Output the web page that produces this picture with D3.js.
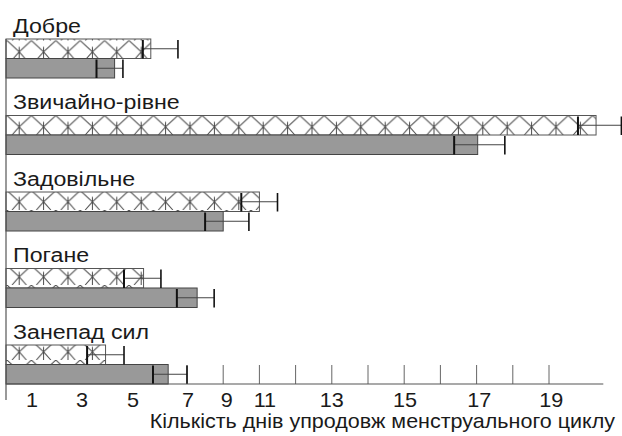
<!DOCTYPE html>
<html>
  <head>
    <meta charset="utf-8">
    <title>Кількість днів упродовж менструального циклу</title>
    <script src="https://cdn.jsdelivr.net/npm/d3@7"></script>
    <style>
      body { margin: 0; background: #fff; }
      svg text { font-family: "Liberation Sans", Arial, sans-serif; fill: #1a1a1a; }
    </style>
  </head>
  <body>
    <svg id="chart" width="622" height="436"></svg>
    <script>
      // values are in axis units: one unit per tick mark
      var categories = ["Добре", "Звичайно-рівне", "Задовільне", "Погане", "Занепад сил"];
      var hatchedMean = [4.0, 16.3, 7.0, 3.8, 2.75];
      var hatchedLow  = [3.78, 15.8, 6.5, 3.26, 2.24];
      var hatchedHigh = [4.75, 17.0, 7.5, 4.28, 3.26];
      var grayMean = [3.0, 13.03, 6.0, 5.28, 4.48];
      var grayLow  = [2.5, 12.38, 5.5, 4.72, 4.06];
      var grayHigh = [3.23, 13.78, 6.71, 5.75, 5.0];
      var tickValues = d3.range(1, 16);
      var tickLabels = ["1", "3", "5", "7", "9", "11", "13", "15", "17", "19"];
      var tickLabelAt = [0.72, 2.1, 3.51, 5.03, 6.1, 7.15, 9.0, 11.02, 13.07, 15.06];
      var axisTitle = "Кількість днів упродовж менструального циклу";

      var svg = d3.select("#chart");
      var x = d3.scaleLinear().domain([0, 16.5]).range([6, 603.3]);
      var y = d3.scaleBand().domain(categories).range([1.5, 384]);
      var step = y.step();
      var inner = d3.scaleBand().domain(["hatched", "gray"]).range([step - 39, step]);

      // the source text is a little wider than Arial
      function place(tx, ty, sx) {
        return "translate(" + tx + "," + ty + ") scale(" + sx + ",1)";
      }

      // tick marks, drawn upward from the axis, behind the bars
      svg.selectAll("line.tick")
        .data(tickValues)
        .enter()
        .append("line")
        .attr("class", "tick")
        .attr("x1", function(d) { return x(d); })
        .attr("x2", function(d) { return x(d); })
        .attr("y1", 384)
        .attr("y2", 365)
        .attr("stroke", "#666")
        .attr("stroke-width", 1);

      var rows = categories.map(function(c, i) {
        return { cat: c, hm: hatchedMean[i], hl: hatchedLow[i], hh: hatchedHigh[i],
                 gm: grayMean[i], gl: grayLow[i], gh: grayHigh[i], i: i };
      });

      // hatch pattern per row, anchored at the bar top
      var defs = svg.append("defs");
      rows.forEach(function(r) {
        var top = y(r.cat) + inner("hatched");
        var h = inner.bandwidth();
        var w = 24.4, c = w / 2, cy = h * 0.58;
        var p = defs.append("pattern")
          .attr("id", "hatch" + r.i)
          .attr("patternUnits", "userSpaceOnUse")
          .attr("x", x(0) + 1).attr("y", top)
          .attr("width", w).attr("height", h);
        p.append("rect").attr("width", w).attr("height", h).attr("fill", "#fff");
        p.append("path")
          .attr("d", "M0,0 L" + c + "," + cy + " L" + (w - 5) + "," + h +
                     " M" + w + ",0 L" + c + "," + cy + " L5," + h +
                     " M" + c + "," + (cy - 5) + " L" + c + "," + h)
          .attr("stroke", "#4a4a4a").attr("stroke-width", 1).attr("fill", "none");
      });

      var row = svg.selectAll("g.row")
        .data(rows)
        .enter()
        .append("g")
        .attr("class", "row")
        .attr("transform", function(d) { return "translate(0," + y(d.cat) + ")"; });

      row.append("text")
        .attr("transform", place(13, inner("hatched") - 6.5, 1.16))
        .attr("font-size", 20)
        .text(function(d) { return d.cat; });

      row.append("rect")
        .attr("x", x(0))
        .attr("y", inner("hatched"))
        .attr("width", function(d) { return x(d.hm) - x(0); })
        .attr("height", inner.bandwidth())
        .attr("fill", function(d) { return "url(#hatch" + d.i + ")"; })
        .attr("stroke", "#555")
        .attr("stroke-width", 1);

      row.append("rect")
        .attr("x", x(0))
        .attr("y", inner("gray"))
        .attr("width", function(d) { return x(d.gm) - x(0); })
        .attr("height", inner.bandwidth())
        .attr("fill", "#999")
        .attr("stroke", "#444")
        .attr("stroke-width", 1);

      function errorBar(sel, key, lo, hi) {
        var top = inner(key), bw = inner.bandwidth(), mid = top + bw / 2;
        sel.append("line")
          .attr("x1", function(d) { return x(d[lo]); })
          .attr("x2", function(d) { return x(d[hi]); })
          .attr("y1", mid).attr("y2", mid)
          .attr("stroke", "#444").attr("stroke-width", 1);
        sel.append("line")
          .attr("x1", function(d) { return x(d[lo]); })
          .attr("x2", function(d) { return x(d[lo]); })
          .attr("y1", top + 1).attr("y2", top + bw)
          .attr("stroke", "#111").attr("stroke-width", 2);
        sel.append("line")
          .attr("x1", function(d) { return x(d[hi]); })
          .attr("x2", function(d) { return x(d[hi]); })
          .attr("y1", top + 1).attr("y2", top + bw)
          .attr("stroke", "#111").attr("stroke-width", 1.6);
      }
      errorBar(row, "hatched", "hl", "hh");
      errorBar(row, "gray", "gl", "gh");

      // axis lines
      svg.append("line")
        .attr("x1", x(0)).attr("x2", x(0))
        .attr("y1", y(categories[0]) + inner("hatched")).attr("y2", 400)
        .attr("stroke", "#555").attr("stroke-width", 1.2);
      svg.append("line")
        .attr("x1", x(0)).attr("x2", x(16.5))
        .attr("y1", 384).attr("y2", 384)
        .attr("stroke", "#555").attr("stroke-width", 1.2);

      svg.selectAll("text.tl")
        .data(tickLabels)
        .enter()
        .append("text")
        .attr("class", "tl")
        .attr("transform", function(d, i) { return place(x(tickLabelAt[i]), 407, 1.08); })
        .attr("text-anchor", "middle")
        .attr("font-size", 20)
        .text(function(d) { return d; });

      svg.append("text")
        .attr("transform", place(615, 428, 1.076))
        .attr("text-anchor", "end")
        .attr("font-size", 20)
        .text(axisTitle);
    </script>
  </body>
</html>
